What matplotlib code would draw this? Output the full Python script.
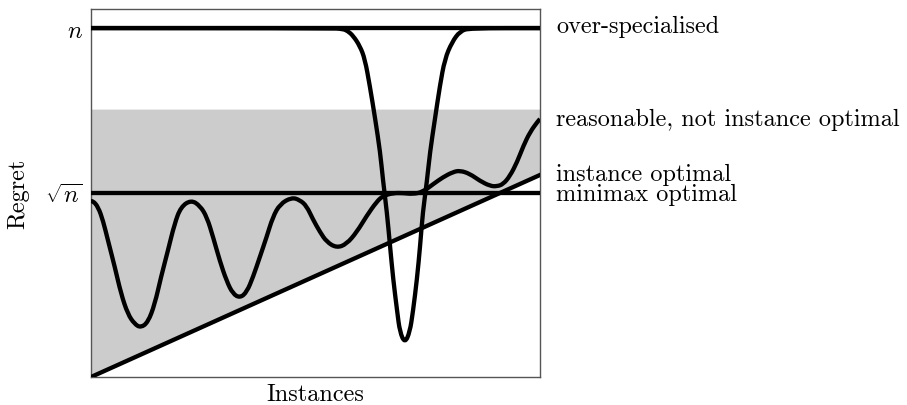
import matplotlib
matplotlib.use("Agg")
import matplotlib.pyplot as plt
from matplotlib.path import Path
from matplotlib.patches import PathPatch

plt.rcParams['font.family'] = ['cmr10', 'DejaVu Serif']
plt.rcParams['mathtext.fontset'] = 'cm'
plt.rcParams['axes.formatter.use_mathtext'] = True

# niveles de referencia (escala normalizada)
nivel_n = 0.948
nivel_raiz_n = 0.500
techo_gris = 0.728

# recta "instance optimal" (extremos)
recta_x = [0.0, 1.0]
recta_y = [0.0, 0.549]

# curva "over-specialised"
over_x = [0.0, 0.532, 0.561, 0.572, 0.584, 0.599, 0.610, 0.621, 0.633, 0.644,
          0.650, 0.659, 0.666, 0.673, 0.682, 0.688, 0.699, 0.710, 0.717, 0.726,
          0.733, 0.739, 0.748, 0.755, 0.766, 0.777, 0.788, 0.804, 0.822, 0.844, 1.0]
over_y = [0.948, 0.948, 0.946, 0.940, 0.927, 0.899, 0.864, 0.791, 0.701, 0.611,
          0.538, 0.448, 0.356, 0.266, 0.177, 0.122, 0.092, 0.122, 0.177, 0.266,
          0.356, 0.448, 0.530, 0.611, 0.701, 0.791, 0.864, 0.910, 0.940, 0.948, 0.948]

# curva "reasonable, not instance optimal"
raz_x = [0.0, 0.004, 0.016, 0.027, 0.038, 0.053, 0.067, 0.082, 0.097, 0.111,
         0.127, 0.142, 0.156, 0.171, 0.186, 0.200, 0.223, 0.243, 0.258, 0.272,
         0.287, 0.302, 0.316, 0.332, 0.347, 0.361, 0.376, 0.391, 0.405, 0.421,
         0.447, 0.465, 0.480, 0.494, 0.510, 0.525, 0.547, 0.569, 0.592, 0.614,
         0.636, 0.650, 0.673, 0.695, 0.717, 0.739, 0.762, 0.784, 0.806, 0.822,
         0.844, 0.866, 0.889, 0.904, 0.918, 0.933, 0.949, 0.963, 0.978, 0.996, 1.0]
raz_y = [0.478, 0.479, 0.462, 0.424, 0.370, 0.299, 0.226, 0.171, 0.144, 0.134,
         0.149, 0.198, 0.272, 0.342, 0.416, 0.462, 0.481, 0.465, 0.435, 0.380,
         0.315, 0.261, 0.226, 0.215, 0.231, 0.272, 0.326, 0.380, 0.435, 0.470,
         0.488, 0.481, 0.465, 0.429, 0.394, 0.367, 0.351, 0.361, 0.394, 0.438,
         0.476, 0.492, 0.500, 0.500, 0.497, 0.503, 0.524, 0.543, 0.557, 0.561,
         0.552, 0.533, 0.519, 0.518, 0.524, 0.546, 0.584, 0.628, 0.666, 0.696, 0.701]

# etiquetas a la derecha
etiquetas = ['over-specialised', 'reasonable, not instance optimal',
             'instance optimal', 'minimax optimal']
etiquetas_y = [0.955, 0.701, 0.553, 0.497]

fs = 17.5


def curva_suave(ax, xs, ys, **kw):
    # curva cuadratica que pasa por los puntos medios de los puntos leidos
    pts = list(zip(xs, ys))
    verts = [pts[0]]
    codes = [Path.MOVETO]
    for i in range(1, len(pts) - 1):
        mid = ((pts[i][0] + pts[i + 1][0]) / 2, (pts[i][1] + pts[i + 1][1]) / 2)
        verts += [pts[i], mid]
        codes += [Path.CURVE3, Path.CURVE3]
    verts.append(pts[-1])
    codes.append(Path.LINETO)
    ax.add_patch(PathPatch(Path(verts, codes), fill=False, **kw))


fig = plt.figure(figsize=(9.07, 4.06), dpi=100)
ax = fig.add_axes([91 / 907, 28 / 406, 449 / 907, 368 / 406])

# banda gris entre la recta y el techo
ax.fill_between(recta_x, recta_y, [techo_gris, techo_gris], color='#cccccc', linewidth=0, zorder=1)

lw = 3.1
ax.axhline(nivel_n, color='black', linewidth=lw, zorder=3)
ax.axhline(nivel_raiz_n, color='black', linewidth=lw, zorder=3)
ax.plot(recta_x, recta_y, color='black', linewidth=lw, zorder=3)
curva_suave(ax, over_x, over_y, edgecolor='black', linewidth=lw, joinstyle='round', zorder=4)
curva_suave(ax, raz_x, raz_y, edgecolor='black', linewidth=lw, joinstyle='round', zorder=4)

ax.set_xlim(0, 1)
ax.set_ylim(0, 1)

ax.set_xticks([])
ax.set_yticks([nivel_raiz_n, nivel_n])
ax.set_yticklabels([r'$\sqrt{n}$', r'$n$'], fontsize=fs)
ax.tick_params(axis='y', length=0, pad=6)

for s in ax.spines.values():
    s.set_color('#555555')
    s.set_linewidth(1.0)

ax.set_xlabel('Instances', fontsize=fs, labelpad=4)
ax.text(-0.163, 0.5, 'Regret', fontsize=fs, rotation=90, ha='center', va='center',
        transform=ax.transAxes)

for txt, yy in zip(etiquetas, etiquetas_y):
    ax.text(1.036, yy, txt, fontsize=fs, va='center', ha='left', clip_on=False)

fig.savefig('out.png', dpi=100)
